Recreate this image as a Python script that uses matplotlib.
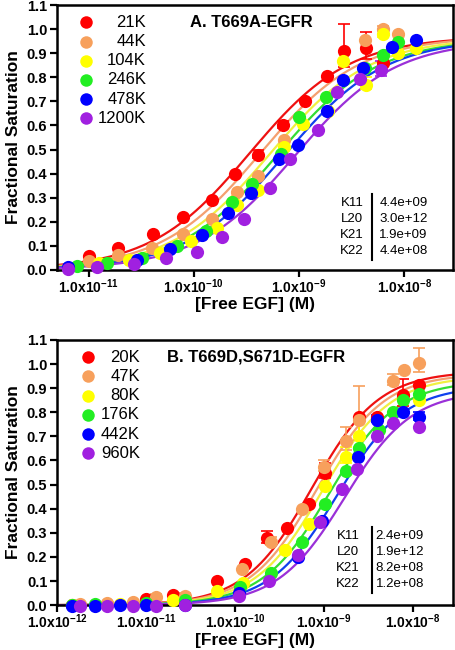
import numpy as np
import matplotlib
matplotlib.use('Agg')
import matplotlib.pyplot as plt
from matplotlib.ticker import FixedLocator, FuncFormatter, NullLocator

plt.rcParams['font.family'] = ['Liberation Sans', 'DejaVu Sans']
plt.rcParams['mathtext.fontset'] = 'custom'
plt.rcParams['mathtext.rm'] = 'Liberation Sans'
plt.rcParams['mathtext.bf'] = 'Liberation Sans:bold'

colors = ['#ff0000', '#f7a05c', '#ffff00', '#22ee22', '#0000ff', '#a020e0']
line_colors = ['#ee1111', '#f4a070', '#f0f040', '#33dd33', '#1040ee', '#9a30d8']

# ---- panel A: T669A-EGFR ----
a_labels = ['21K', '44K', '104K', '246K', '478K', '1200K']
a_x = [
    [1.0e-11, 1.9e-11, 4.1e-11, 7.9e-11, 1.5e-10, 2.45e-10, 4.1e-10, 7.1e-10, 1.14e-9, 1.86e-9, 2.7e-9, 4.3e-9, 6.3e-9],
    [1.0e-11, 1.9e-11, 4.0e-11, 7.9e-11, 1.5e-10, 2.6e-10, 4.1e-10, 7.2e-10, 4.2e-9, 6.3e-9, 8.8e-9],
    [1.26e-11, 2.4e-11, 4.8e-11, 9.3e-11, 1.66e-10, 2.6e-10, 4.1e-10, 7.2e-10, 1.1e-9, 1.9e-9, 2.6e-9, 4.3e-9, 6.3e-9, 8.8e-9, 1.3e-8],
    [7.7e-12, 1.5e-11, 3.2e-11, 6.9e-11, 1.3e-10, 2.3e-10, 3.6e-10, 6.7e-10, 1.0e-9, 1.8e-9, 4.2e-9, 6.3e-9, 8.8e-9],
    [6.3e-12, 2.9e-11, 5.9e-11, 1.2e-10, 2.1e-10, 3.5e-10, 6.4e-10, 9.8e-10, 1.85e-9, 2.6e-9, 4.1e-9, 7.7e-9, 1.3e-8],
    [6.3e-12, 1.2e-11, 2.7e-11, 5.4e-11, 1.07e-10, 1.85e-10, 3.0e-10, 5.3e-10, 8.2e-10, 1.5e-9, 2.3e-9, 3.8e-9, 6.0e-9],
]
a_y = [
    [0.058, 0.09, 0.15, 0.22, 0.29, 0.40, 0.477, 0.60, 0.70, 0.805, 0.91, 0.92, 0.86],
    [0.035, 0.063, 0.09, 0.15, 0.21, 0.325, 0.39, 0.54, 0.955, 1.0, 0.98],
    [0.028, 0.04, 0.07, 0.12, 0.175, 0.27, 0.33, 0.51, 0.605, 0.66, 0.87, 0.77, 0.98, 0.90, 0.92],
    [0.014, 0.03, 0.05, 0.10, 0.16, 0.28, 0.355, 0.48, 0.635, 0.72, 0.84, 0.895, 0.945],
    [0.01, 0.04, 0.085, 0.145, 0.235, 0.32, 0.46, 0.52, 0.66, 0.79, 0.84, 0.925, 0.955],
    [0.004, 0.01, 0.025, 0.05, 0.075, 0.135, 0.21, 0.34, 0.46, 0.58, 0.74, 0.795, 0.83],
]
a_err = [
    [0, 0, 0, 0, 0, 0, 0.02, 0.02, 0, 0, 0.11, 0.07, 0],
    [0, 0, 0, 0, 0, 0, 0, 0, 0, 0.015, 0],
    [0, 0, 0, 0, 0, 0, 0, 0, 0, 0, 0, 0.03, 0.02, 0, 0],
    [0] * 13,
    [0] * 13,
    [0, 0, 0, 0, 0, 0, 0, 0, 0, 0, 0, 0, 0.04],
]
a_ec50 = [3.4e-10, 4.3e-10, 5.3e-10, 6.3e-10, 7.4e-10, 9.3e-10]
a_top = [0.97, 0.97, 0.965, 0.96, 0.96, 0.955]
a_hill = 0.92
a_const = ['K11', 'L20', 'K21', 'K22']
a_vals = ['4.4e+09', '3.0e+12', '1.9e+09', '4.4e+08']

# ---- panel B: T669D,S671D-EGFR ----
b_labels = ['20K', '47K', '80K', '176K', '442K', '960K']
b_x = [
    [1.46e-12, 3.6e-12, 1.0e-11, 2.0e-11, 6.2e-11, 1.29e-10, 2.27e-10, 3.8e-10, 6.8e-10, 1.02e-9, 2.5e-9, 3.9e-9, 7.7e-9, 1.17e-8],
    [1.8e-12, 3.6e-12, 7.1e-12, 1.3e-11, 2.75e-11, 1.19e-10, 2.57e-10, 5.6e-10, 1.0e-9, 1.77e-9, 2.5e-9, 5.9e-9, 7.9e-9, 1.17e-8],
    [1.46e-12, 5.1e-12, 2.0e-11, 6.2e-11, 1.24e-10, 3.6e-10, 6.8e-10, 1.02e-9, 1.77e-9, 2.5e-9, 1.17e-8],
    [1.46e-12, 2.7e-12, 1.0e-11, 2.75e-11, 1.15e-10, 2.57e-10, 5.6e-10, 1.02e-9, 1.77e-9, 2.5e-9, 4.1e-9, 5.9e-9, 7.7e-9, 1.17e-8],
    [1.46e-12, 2.7e-12, 5.1e-12, 1.0e-11, 2.75e-11, 1.1e-10, 5.1e-10, 9.4e-10, 2.4e-9, 3.9e-9, 7.7e-9, 1.17e-8],
    [1.8e-12, 3.6e-12, 7.1e-12, 1.3e-11, 2.75e-11, 1.1e-10, 2.4e-10, 5.1e-10, 9.0e-10, 1.6e-9, 2.35e-9, 3.9e-9, 5.9e-9, 1.17e-8],
]
b_y = [
    [0.0, 0.003, 0.024, 0.041, 0.10, 0.17, 0.277, 0.318, 0.42, 0.55, 0.78, 0.78, 0.87, 0.915],
    [0.005, 0.008, 0.012, 0.033, 0.04, 0.148, 0.263, 0.40, 0.574, 0.68, 0.77, 0.93, 0.975, 1.005],
    [0.0, 0.004, 0.02, 0.058, 0.093, 0.228, 0.336, 0.495, 0.615, 0.70, 0.85],
    [0.0, 0.003, 0.01, 0.02, 0.076, 0.134, 0.263, 0.42, 0.557, 0.653, 0.726, 0.80, 0.85, 0.875],
    [-0.003, -0.003, 0.0, 0.0, 0.0, 0.05, 0.198, 0.35, 0.615, 0.77, 0.80, 0.78],
    [-0.003, -0.003, -0.003, -0.003, 0.0, 0.04, 0.10, 0.207, 0.345, 0.48, 0.563, 0.70, 0.754, 0.74],
]
b_err = [
    [0, 0, 0, 0, 0, 0, 0.03, 0, 0, 0.04, 0, 0, 0.07, 0],
    [0, 0, 0, 0.012, 0.012, 0, 0.02, 0, 0.03, 0.06, 0.14, 0.03, 0, 0.06],
    [0, 0, 0, 0, 0, 0, 0, 0, 0.04, 0.07, 0],
    [0] * 14,
    [0, 0, 0, 0, 0, 0, 0, 0, 0, 0.02, 0, 0.02],
    [0] * 14,
]
b_ec50 = [7.3e-10, 8.3e-10, 9.6e-10, 1.15e-9, 1.4e-9, 1.7e-9]
b_top = [0.97, 0.96, 0.95, 0.93, 0.91, 0.89]
b_hill = 1.15
b_const = ['K11', 'L20', 'K21', 'K22']
b_vals = ['2.4e+09', '1.9e+12', '8.2e+08', '1.2e+08']


def tick_fmt(v, pos):
    e = int(round(np.log10(v)))
    return r'$\mathbf{1.0x10^{%d}}$' % e


def panel(ax, xs, ys, errs, ec50, top, hill, labels, title, consts, vals, xlim, ticks, loc):
    ax.set_xscale('log')
    grid = np.logspace(np.log10(xlim[0]), np.log10(xlim[1]), 300)
    for i in range(6):
        fit = top[i] * (grid / ec50[i]) ** hill / (1 + (grid / ec50[i]) ** hill)
        ax.plot(grid, fit, color=line_colors[i], lw=1.6, zorder=2)
    for i in range(6):
        e = np.array(errs[i], dtype=float)
        ax.errorbar(xs[i], ys[i], yerr=[e * 0.6, e], fmt='o', color=colors[i],
                    ecolor=colors[i], ms=9.5, mec='none', elinewidth=1.2, capsize=4,
                    capthick=1.2, zorder=3, clip_on=False)
    ax.set_xlim(*xlim)
    ax.set_ylim(0, 1.1)
    ax.xaxis.set_major_locator(FixedLocator(ticks))
    ax.xaxis.set_minor_locator(NullLocator())
    ax.xaxis.set_major_formatter(FuncFormatter(tick_fmt))
    ax.set_yticks(np.arange(0, 1.11, 0.1))
    ax.set_yticklabels(['%.1f' % v for v in np.arange(0, 1.11, 0.1)], fontweight='bold')
    ax.tick_params(axis='both', width=1.6, length=5, direction='out')
    ax.tick_params(axis='y', labelsize=10.5, pad=2)
    ax.tick_params(axis='x', labelsize=10, pad=0.5)
    for s in ax.spines.values():
        s.set_linewidth(1.8)
    ax.set_ylabel('Fractional Saturation', fontsize=12.5, fontweight='bold', labelpad=4)
    ax.set_xlabel('[Free EGF] (M)', fontsize=12.5, fontweight='bold', labelpad=1)

    # legend, drawn by hand: marker left, right-aligned label
    mx, tx, y0, dy = loc['leg']
    for i in range(6):
        yy = y0 - i * dy
        ax.plot([mx], [yy], 'o', color=colors[i], ms=9, mec='none', transform=ax.transAxes, clip_on=False)
        ax.text(tx, yy, labels[i], transform=ax.transAxes, ha='right', va='center', fontsize=12)
    ax.text(loc['title'][0], loc['title'][1], title, transform=ax.transAxes,
            fontsize=12, fontweight='bold', va='center', ha='left')

    cx, vx, lx, cy, cdy = loc['tab']
    for j in range(4):
        ax.text(cx, cy - j * cdy, consts[j], transform=ax.transAxes, ha='center', va='center', fontsize=9.5)
        ax.text(vx, cy - j * cdy, vals[j], transform=ax.transAxes, ha='center', va='center', fontsize=9.5)
    ax.plot([lx, lx], [cy + 0.6 * cdy, cy - 3.6 * cdy], color='black', lw=1.5, transform=ax.transAxes)


fig = plt.figure(figsize=(4.56, 6.5), dpi=100)
ax1 = fig.add_axes([0.125, 0.585, 0.868, 0.407])
ax2 = fig.add_axes([0.125, 0.069, 0.868, 0.408])

panel(ax1, a_x, a_y, a_err, a_ec50, a_top, a_hill, a_labels, 'A. T669A-EGFR', a_const, a_vals,
      (5.0e-12, 2.9e-8), [1e-11, 1e-10, 1e-9, 1e-8],
      {'leg': (0.073, 0.225, 0.935, 0.0725), 'title': (0.335, 0.935),
       'tab': (0.745, 0.875, 0.797, 0.252, 0.06)})
panel(ax2, b_x, b_y, b_err, b_ec50, b_top, b_hill, b_labels, 'B. T669D,S671D-EGFR', b_const, b_vals,
      (1.0e-12, 2.8e-8), [1e-12, 1e-11, 1e-10, 1e-9, 1e-8],
      {'leg': (0.078, 0.21, 0.935, 0.0725), 'title': (0.278, 0.935),
       'tab': (0.735, 0.866, 0.795, 0.26, 0.06)})

fig.savefig('out.png', dpi=100)
